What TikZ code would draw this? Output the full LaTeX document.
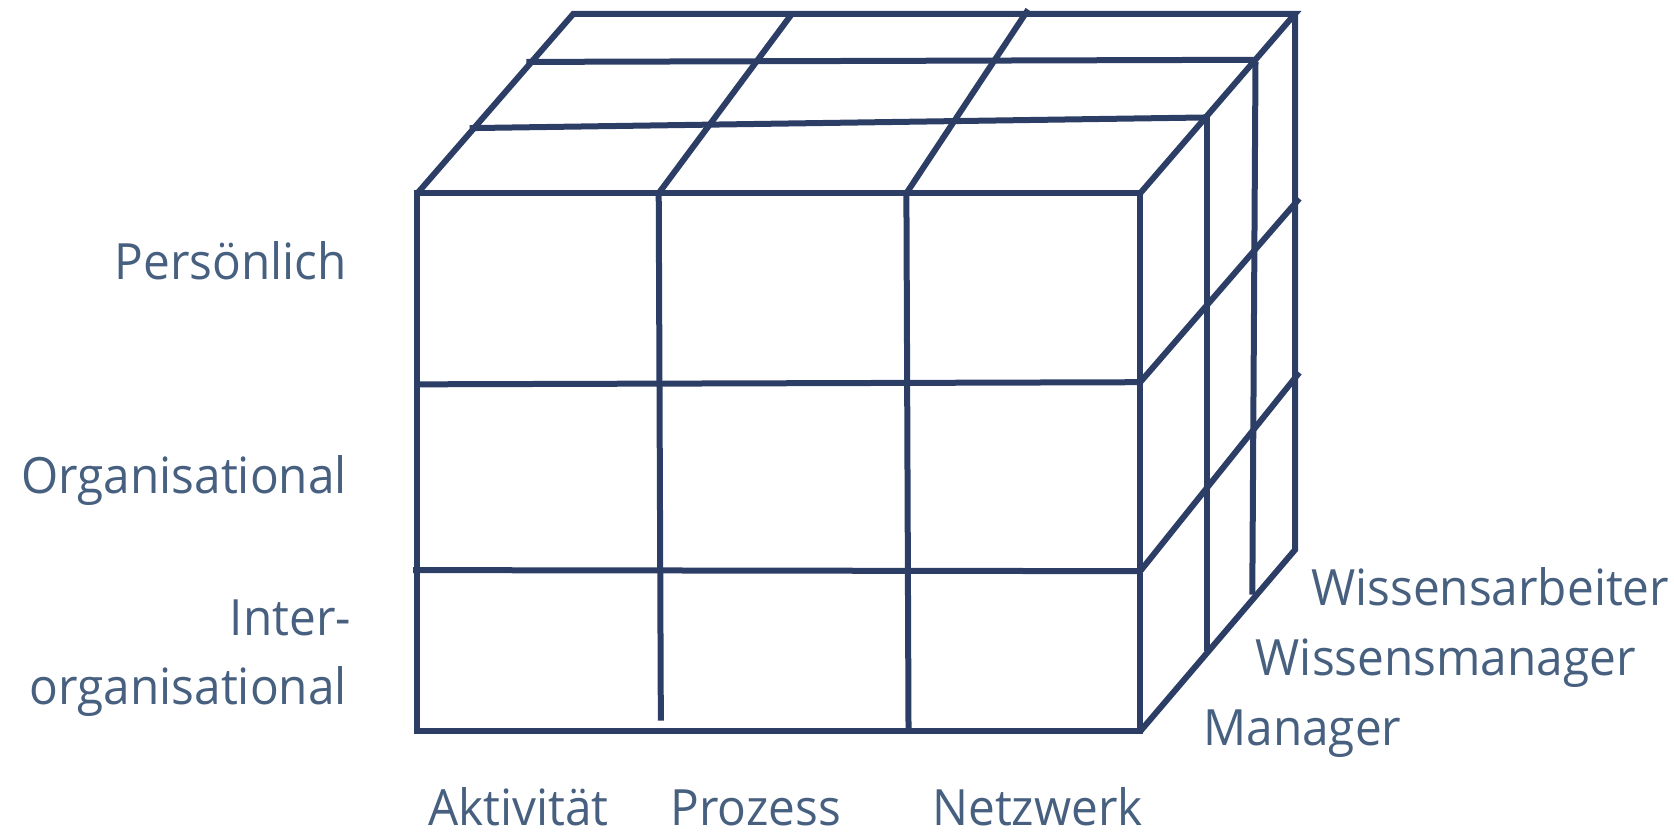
\documentclass[tikz,border=0pt]{standalone}
\usepackage{fontspec}
\setmainfont{Open Sans}[FakeStretch=0.955]
\definecolor{cubeline}{HTML}{2C3E66}
\definecolor{labeltext}{HTML}{47607F}
\begin{document}
\begin{tikzpicture}[x=1.0676pt,y=-1.0676pt,
  edge/.style={draw=cubeline,line width=6pt,line join=miter},
  lbl/.style={inner sep=0pt,text=labeltext,font=\fontsize{50pt}{60pt}\selectfont}]
\useasboundingbox (0,0) rectangle (1568,782);
% corners
\coordinate (FTL) at (391,181);
\coordinate (FTR) at (1068,181);
\coordinate (FBL) at (391,685);
\coordinate (FBR) at (1068,685);
\coordinate (BTL) at (537,13);
\coordinate (BTR) at (1213,13);
\coordinate (BBR) at (1213,515);
% front face grid
\coordinate (H1a) at (391,360); \coordinate (H1b) at (1068,358);
\coordinate (H2a) at (387,534); \coordinate (H2b) at (1068,535);
\coordinate (V1a) at (617,181); \coordinate (V1b) at (619,675);
\coordinate (V2a) at (849,181); \coordinate (V2b) at (851,685);
% top face grid
\coordinate (T1a) at (493,58);  \coordinate (T1b) at (1176,56);
\coordinate (T2a) at (440,120); \coordinate (T2b) at (1131,110);
\coordinate (D1a) at (741,14);  \coordinate (D2a) at (963,9);
% right face grid
\coordinate (R1a) at (1131,110); \coordinate (R1b) at (1131,610);
\coordinate (R2a) at (1176,58);  \coordinate (R2b) at (1173,557);
\coordinate (S1a) at (1068,358); \coordinate (S1b) at (1217,186);
\coordinate (S2a) at (1068,535); \coordinate (S2b) at (1217,349);

\draw[edge] (FTL) -- (FTR) -- (FBR) -- (FBL) -- cycle;
\draw[edge] (FTL) -- (BTL) -- (BTR) -- (FTR);
\draw[edge] (BTR) -- (BBR) -- (FBR);
\draw[edge] (H1a) -- (H1b);
\draw[edge] (H2a) -- (H2b);
\draw[edge] (V1a) -- (V1b);
\draw[edge] (V2a) -- (V2b);
\draw[edge] (T1a) -- (T1b);
\draw[edge] (T2a) -- (T2b);
\draw[edge] (D1a) -- (V1a);
\draw[edge] (D2a) -- (V2a);
\draw[edge] (R1a) -- (R1b);
\draw[edge] (R2a) -- (R2b);
\draw[edge] (S1a) -- (S1b);
\draw[edge] (S2a) -- (S2b);

% labels
\node[lbl,anchor=base east] (pers) at (325,262) {Persönlich};
\node[lbl,anchor=base east] (org) at (325,462) {Organisational};
\node[lbl,anchor=base east] (inter) at (329,595) {Inter-};
\node[lbl,anchor=base east] (inter2) at (325,660) {organisational};
\node[lbl,anchor=base west] (akt) at (401,773) {Aktivität};
\node[lbl,anchor=base west] (proz) at (628,773) {Prozess};
\node[lbl,anchor=base west] (netz) at (873,773) {Netzwerk};
\node[lbl,anchor=base west] (wa) at (1228,567) {Wissensarbeiter};
\node[lbl,anchor=base west] (wm) at (1176,633) {Wissensmanager};
\node[lbl,anchor=base west] (man) at (1127,698) {Manager};
\end{tikzpicture}
\end{document}
